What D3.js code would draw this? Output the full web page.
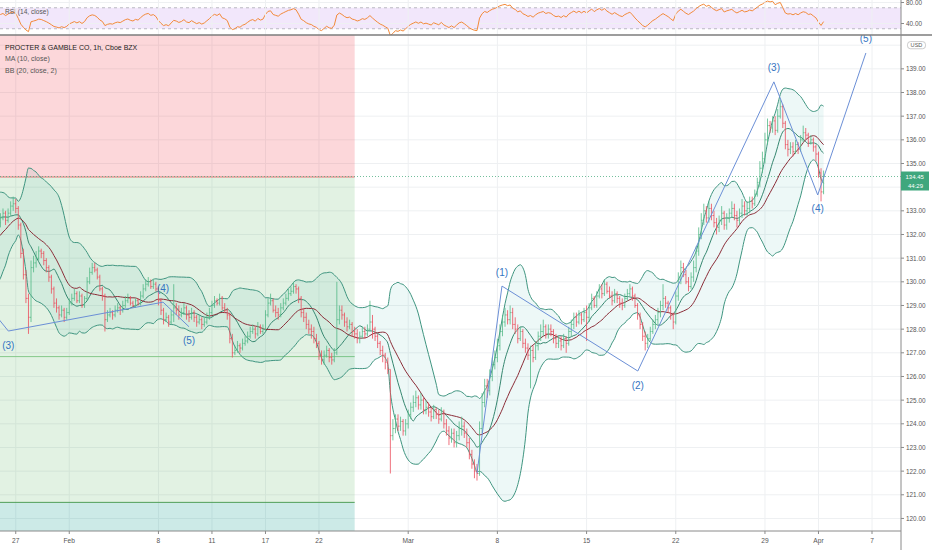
<!DOCTYPE html>
<html>
<head>
<meta charset="utf-8">
<title>PG 1h</title>
<script src="https://cdn.jsdelivr.net/npm/d3@7"></script>
<style>
  html, body { margin: 0; padding: 0; background: #fff; }
  svg { display: block; }
  text { font-family: "Liberation Sans", Arial, sans-serif; }
</style>
</head>
<body>
<svg id="chart" width="932" height="550"></svg>
<script>
// hourly bars, 7 per session. The first 3 sessions (21, 22, 25 Jan) are only
// there so the indicators have history when the visible window starts (26 Jan)
const barsPerDay = 7
const warmupBars = 21

const closes = [
  131.5, 131.0, 130.6, 130.2, 130.5, 130.3, 130.8, // Jan 21
  131.2, 131.6, 131.4, 131.9, 132.3, 132.1, 132.6, // Jan 22
  132.6, 133.0, 132.7, 133.1, 132.8, 132.4, 132.7, // Jan 25
  132.5, 132.7, 132.9, 132.6, 132.9, 133.2, 133.3, // Jan 26
  133.1, 132.4, 131.2, 130.3, 129.3, 128.5, 130.6, // Jan 27
  130.8, 131.0, 131.3, 131.2, 130.9, 130.6, 130.2, // Jan 28
  129.7, 129.1, 128.9, 128.6, 128.8, 128.5, 128.7, // Jan 29
  129.1, 129.3, 129.5, 129.2, 129.4, 129.0, 129.3, // Feb 1
  130.0, 130.4, 130.6, 130.5, 130.2, 129.7, 129.4, // Feb 2
  128.4, 128.6, 128.7, 128.6, 128.8, 128.9, 128.8, // Feb 3
  129.0, 129.2, 129.3, 129.1, 129.0, 129.2, 129.1, // Feb 4
  129.4, 129.7, 129.9, 130.0, 129.8, 129.9, 129.7, // Feb 5
  129.2, 128.8, 128.4, 128.5, 128.3, 128.6, 128.9, // Feb 8
  128.8, 128.6, 128.7, 128.9, 128.6, 128.5, 128.7, // Feb 9
  128.5, 128.3, 128.4, 128.2, 128.3, 128.5, 128.7, // Feb 10
  129.0, 129.2, 129.1, 129.3, 128.9, 128.8, 128.6, // Feb 11
  127.6, 127.0, 127.1, 127.3, 127.2, 127.4, 127.5, // Feb 12
  127.7, 127.9, 128.0, 127.8, 128.1, 127.9, 128.0, // Feb 16
  128.6, 129.1, 129.2, 128.8, 128.7, 128.6, 128.9, // Feb 17
  129.1, 129.3, 129.5, 129.6, 129.8, 129.7, 129.3, // Feb 18
  128.7, 128.5, 128.2, 128.0, 127.9, 127.6, 127.4, // Feb 19
  126.9, 126.7, 126.9, 127.1, 126.8, 126.7, 127.0, // Feb 22
  128.4, 128.8, 128.6, 128.3, 128.1, 128.2, 127.9, // Feb 23
  127.8, 127.6, 127.7, 127.9, 127.8, 128.0, 128.3, // Feb 24
  128.0, 127.7, 127.4, 127.1, 126.9, 126.6, 126.3, // Feb 25
  123.5, 123.8, 124.2, 123.9, 124.1, 123.7, 124.0, // Feb 26
  124.4, 124.7, 124.9, 125.1, 124.8, 125.0, 124.6, // Mar 1
  124.7, 124.5, 124.3, 124.6, 124.4, 124.2, 124.5, // Mar 2
  124.0, 123.7, 123.4, 123.6, 123.2, 123.5, 123.8, // Mar 3
  123.9, 123.6, 123.2, 122.7, 122.3, 122.0, 121.9, // Mar 4
  123.8, 124.9, 125.6, 125.4, 126.0, 126.5, 126.8, // Mar 5
  127.3, 127.9, 128.3, 128.6, 128.4, 128.7, 128.2, // Mar 8
  128.0, 127.6, 127.9, 127.4, 127.2, 126.9, 127.1, // Mar 9
  126.8, 127.3, 127.7, 127.9, 128.1, 127.8, 128.0, // Mar 10
  127.9, 127.6, 127.4, 127.5, 127.3, 127.6, 127.4, // Mar 11
  127.9, 128.2, 128.5, 128.3, 128.6, 128.4, 128.7, // Mar 12
  128.5, 128.9, 129.3, 129.0, 129.4, 129.7, 129.5, // Mar 15
  129.9, 129.6, 129.4, 129.2, 129.5, 129.3, 129.1, // Mar 16
  129.0, 129.3, 129.5, 129.7, 129.4, 129.0, 128.6, // Mar 17
  128.2, 127.7, 127.4, 127.6, 127.9, 128.2, 128.4, // Mar 18
  128.7, 129.0, 129.3, 129.1, 128.9, 128.6, 128.3, // Mar 19
  129.4, 130.1, 130.6, 130.3, 130.0, 129.8, 130.2, // Mar 22
  130.6, 131.3, 132.0, 132.6, 133.0, 132.7, 133.1, // Mar 23
  132.8, 132.5, 132.3, 132.6, 132.9, 132.4, 132.7, // Mar 24
  132.9, 133.1, 132.8, 132.6, 132.9, 133.2, 133.0, // Mar 25
  133.1, 133.4, 133.3, 133.7, 134.2, 134.8, 135.2, // Mar 26
  136.0, 136.6, 136.5, 136.8, 136.4, 137.0, 137.4, // Mar 29
  136.7, 135.8, 135.6, 135.7, 135.5, 135.8, 135.6, // Mar 30
  136.0, 136.3, 136.2, 135.9, 136.0, 135.7, 135.4, // Mar 31
  134.6, 133.8, 134.45                             // Apr 1
]

const highs = [
  131.8, 131.7, 131.2, 130.8, 130.7, 130.7, 131.0,
  131.4, 131.8, 131.7, 132.1, 132.5, 132.4, 132.8,
  132.9, 133.2, 133.1, 133.3, 133.2, 132.9, 132.9,
  132.9, 132.9, 133.1, 133.0, 133.1, 133.4, 133.6,
  133.5, 133.2, 132.5, 131.4, 130.5, 129.5, 130.9,
  131.1, 131.3, 131.5, 131.4, 131.3, 131.0, 130.7,
  130.3, 129.8, 129.3, 129.0, 129.0, 128.9, 128.9,
  129.3, 129.5, 129.7, 129.6, 129.6, 129.5, 129.4,
  130.2, 130.6, 130.8, 130.8, 130.6, 130.3, 129.8,
  129.5, 128.8, 128.9, 128.8, 129.0, 129.1, 129.0,
  129.2, 129.4, 129.5, 129.4, 129.2, 129.3, 129.3,
  129.6, 129.9, 130.1, 130.2, 130.1, 130.1, 130.0,
  129.8, 129.3, 128.9, 128.7, 128.6, 128.8, 129.9,
  129.1, 129.0, 128.9, 129.1, 129.0, 128.8, 128.9,
  128.8, 128.6, 128.6, 128.5, 128.5, 128.7, 128.9,
  129.2, 129.4, 129.3, 129.5, 129.4, 129.1, 128.9,
  128.7, 127.8, 127.3, 127.5, 127.4, 127.6, 127.7,
  127.9, 128.1, 128.2, 128.1, 128.3, 128.2, 128.2,
  128.8, 129.3, 129.5, 129.3, 129.0, 128.9, 129.1,
  129.3, 129.5, 129.7, 129.8, 130.0, 129.9, 129.8,
  129.4, 128.9, 128.7, 128.4, 128.2, 128.1, 127.8,
  127.5, 127.1, 127.1, 127.3, 127.2, 127.0, 127.2,
  130.0, 129.0, 129.0, 128.7, 128.5, 128.4, 128.3,
  128.1, 128.0, 127.9, 128.1, 128.1, 128.2, 129.2,
  128.6, 128.1, 127.8, 127.5, 127.3, 127.0, 126.8,
  126.3, 124.2, 124.4, 124.4, 124.3, 124.2, 124.2,
  124.6, 124.9, 125.2, 125.4, 125.2, 125.3, 125.1,
  125.0, 124.9, 124.7, 124.8, 124.7, 124.6, 124.7,
  124.6, 124.2, 123.9, 123.8, 123.8, 123.7, 124.1,
  124.3, 124.1, 123.8, 123.4, 122.9, 122.5, 122.3,
  124.1, 125.3, 125.9, 125.9, 126.3, 126.8, 127.1,
  127.6, 128.2, 128.6, 128.9, 128.8, 129.0, 128.9,
  128.5, 128.2, 128.1, 128.0, 127.6, 127.4, 127.3,
  127.3, 127.5, 127.9, 128.2, 128.4, 128.2, 128.2,
  128.2, 128.0, 127.8, 127.7, 127.7, 127.8, 127.7,
  128.1, 128.4, 128.7, 128.7, 128.8, 128.7, 128.9,
  129.0, 129.1, 129.5, 129.4, 129.6, 129.9, 129.9,
  130.1, 130.0, 129.8, 129.6, 129.7, 129.6, 129.4,
  129.3, 129.5, 129.7, 129.9, 129.8, 129.5, 129.1,
  128.7, 128.3, 127.9, 127.8, 128.1, 128.4, 128.6,
  128.9, 129.2, 129.9, 129.4, 129.2, 129.0, 128.7,
  129.6, 130.4, 130.9, 130.8, 130.5, 130.2, 130.4,
  130.9, 131.5, 132.3, 132.9, 133.3, 133.2, 133.4,
  133.3, 133.0, 132.7, 132.8, 133.2, 133.0, 132.9,
  133.1, 133.4, 133.3, 133.0, 133.1, 133.5, 133.4,
  133.4, 133.6, 133.6, 133.9, 134.4, 135.1, 135.5,
  136.3, 136.9, 136.8, 137.0, 137.0, 137.3, 137.7,
  137.5, 136.8, 136.0, 135.9, 135.9, 136.0, 135.9,
  136.2, 136.6, 136.5, 136.3, 136.2, 136.1, 135.8,
  135.5, 134.8, 134.7
]

const lows = [
  131.2, 130.9, 130.4, 130.0, 130.1, 130.1, 130.2,
  130.7, 131.1, 131.2, 131.3, 131.8, 131.9, 132.0,
  132.3, 132.5, 132.5, 132.6, 132.7, 132.2, 132.3,
  132.3, 132.3, 132.6, 132.4, 132.5, 132.8, 133.0,
  132.9, 132.2, 131.0, 130.1, 129.1, 127.8, 128.3,
  130.4, 130.6, 130.9, 131.0, 130.7, 130.4, 130.0,
  129.5, 128.9, 128.7, 128.4, 128.5, 128.3, 128.4,
  128.6, 129.0, 129.2, 129.1, 129.1, 128.9, 128.9,
  129.2, 129.9, 130.3, 130.4, 130.1, 129.6, 129.2,
  127.9, 128.3, 128.5, 128.4, 128.5, 128.7, 128.6,
  128.7, 128.9, 129.1, 129.0, 128.9, 128.9, 129.0,
  129.0, 129.3, 129.6, 129.8, 129.7, 129.7, 129.6,
  129.0, 128.6, 128.2, 128.3, 128.1, 128.2, 128.3,
  128.6, 128.4, 128.5, 128.6, 128.4, 128.3, 128.4,
  128.3, 128.1, 128.2, 128.0, 128.1, 128.2, 128.4,
  128.6, 128.9, 129.0, 129.0, 128.8, 128.7, 128.4,
  127.4, 126.8, 126.9, 127.0, 127.0, 127.1, 127.3,
  127.4, 127.6, 127.8, 127.6, 127.7, 127.8, 127.8,
  127.9, 128.5, 129.0, 128.7, 128.5, 128.4, 128.5,
  128.8, 129.0, 129.2, 129.4, 129.5, 129.5, 129.1,
  128.5, 128.3, 128.0, 127.8, 127.6, 127.4, 127.2,
  126.7, 126.5, 126.5, 126.8, 126.6, 126.5, 126.6,
  126.9, 128.2, 128.4, 128.1, 127.9, 128.0, 127.7,
  127.6, 127.4, 127.4, 127.6, 127.6, 127.7, 127.9,
  127.6, 127.5, 127.2, 126.9, 126.6, 126.3, 126.1,
  121.9, 123.3, 123.6, 123.7, 123.7, 123.5, 123.5,
  123.8, 124.2, 124.5, 124.7, 124.6, 124.6, 124.4,
  124.4, 124.3, 124.1, 124.2, 124.2, 124.0, 124.1,
  123.8, 123.5, 123.1, 123.2, 123.0, 123.0, 123.3,
  123.5, 123.4, 123.0, 122.5, 122.1, 121.7, 121.6,
  121.8, 123.6, 124.7, 125.1, 125.2, 125.8, 126.3,
  126.6, 127.1, 127.7, 128.1, 128.2, 128.2, 128.0,
  127.8, 127.4, 127.5, 127.2, 127.0, 126.7, 125.5,
  126.6, 126.7, 127.1, 127.5, 127.7, 127.6, 127.6,
  127.7, 127.4, 127.2, 127.2, 127.1, 127.2, 127.0,
  127.3, 127.7, 128.0, 128.1, 128.2, 128.2, 128.3,
  127.5, 128.3, 128.8, 128.9, 128.9, 129.3, 129.3,
  129.4, 129.5, 129.3, 129.0, 129.1, 129.1, 128.9,
  128.8, 128.9, 129.2, 129.4, 129.2, 128.9, 128.4,
  128.0, 127.5, 127.1, 127.2, 127.5, 127.8, 128.0,
  128.2, 128.5, 128.8, 128.9, 128.7, 128.4, 128.0,
  128.2, 129.2, 129.9, 130.2, 129.9, 129.6, 129.7,
  130.0, 130.4, 131.1, 131.8, 132.4, 132.5, 132.5,
  132.6, 132.3, 132.0, 132.1, 132.4, 132.2, 132.2,
  132.5, 132.7, 132.6, 132.3, 132.4, 132.7, 132.8,
  132.8, 132.9, 133.1, 133.2, 133.6, 134.0, 134.6,
  135.0, 135.8, 136.3, 136.3, 136.2, 136.3, 136.9,
  136.5, 135.6, 135.3, 135.4, 135.3, 135.4, 135.4,
  135.5, 135.9, 136.0, 135.7, 135.8, 135.5, 135.1,
  134.4, 133.4, 133.7
]

// x axis: session number (0 = 26 Jan) of the labelled sessions
const dayTicks = [1, 4, 9, 12, 15, 18, 23, 28, 33, 38, 43, 46, 49]
const dayLabels = ["27", "Feb", "8", "11", "17", "22", "Mar", "8", "15", "22", "29", "Apr", "7"]

const priceTicks = d3.range(120, 140)
const rsiTicks = [80, 40]
const rsiBand = [70, 30]

// short position tool: stop (above chart), entry, inner level, target, box bottom
const positionLevels = [141.5, 134.43, 126.84, 120.68, 119.0]
const positionBars = [-21, 140]

// elliott wave points: [bars since 26 Jan open, price]
const waveLeft = [[-4, 129.0], [4.1, 127.92], [64.8, 129.14], [75, 128.1]]
const waveLeftLabels = ["", "(3)", "(4)", "(5)"]
const waveRight = [[188, 121.91], [197.8, 129.82], [251.1, 126.23], [304.5, 138.45], [321.7, 133.67], [340.6, 139.67]]
const waveRightLabels = ["", "(1)", "(2)", "(3)", "(4)", "(5)"]

const legendLines = ["PROCTER & GAMBLE CO, 1h, Cboe BZX", "MA (10, close)", "BB (20, close, 2)"]
const countdown = "44:29"

// ---- layout
const axisX = 901, rsiBottom = 35, plotBottom = 531
const upColor = "#53b987", downColor = "#eb4d5c"
const gridColor = "#eef0f2", axisText = "#555"

const svg = d3.select("#chart")
const defs = svg.append("defs")
defs.append("clipPath").attr("id", "clip-main").append("rect")
  .attr("x", 0).attr("y", rsiBottom).attr("width", axisX).attr("height", plotBottom - rsiBottom)
defs.append("clipPath").attr("id", "clip-rsi").append("rect")
  .attr("x", 0).attr("y", 0).attr("width", axisX).attr("height", rsiBottom)

const xDay = d3.scaleLinear().domain([0, 49]).range([-2.1, 872])
const barX = i => xDay((i - warmupBars) / barsPerDay)
const waveX = b => xDay(b / barsPerDay)
const y = d3.scaleLinear().domain([119.47, 140.43]).range([plotBottom, rsiBottom])
const yR = d3.scaleLinear().domain([40, 80]).range([23.5, 2.5])

// ---- indicators
function sma (v, n) {
  return v.map((_, i) => i < n - 1 ? null : d3.mean(v.slice(i - n + 1, i + 1)))
}
function stdev (v, n) {
  return v.map((_, i) => {
    if (i < n - 1) return null
    let w = v.slice(i - n + 1, i + 1), m = d3.mean(w)
    return Math.sqrt(d3.mean(w, d => (d - m) * (d - m)))
  })
}
function rsi (v, n) {
  let out = v.map(() => null), ag = 0, al = 0
  for (let i = 1; i < v.length; i++) {
    let ch = v[i] - v[i - 1], g = Math.max(ch, 0), l = Math.max(-ch, 0)
    if (i <= n) {
      ag += g / n; al += l / n
      if (i === n) out[i] = 100 - 100 / (1 + ag / al)
    } else {
      ag = (ag * (n - 1) + g) / n
      al = (al * (n - 1) + l) / n
      out[i] = al === 0 ? 100 : 100 - 100 / (1 + ag / al)
    }
  }
  return out
}

const basis = sma(closes, 20)
const dev = stdev(closes, 20)
const upper = basis.map((b, i) => b == null ? null : b + 2 * dev[i])
const lower = basis.map((b, i) => b == null ? null : b - 2 * dev[i])
const ma10 = sma(closes, 10)
const rsi14 = rsi(closes, 14)

const bars = closes.map((c, i) => ({ i, o: i ? closes[i - 1] : c, h: highs[i], l: lows[i], c }))
const last = closes[closes.length - 1]

// ---- background panels and grid
svg.append("rect").attr("width", 932).attr("height", 550).attr("fill", "#fff")

const rsiG = svg.append("g").attr("clip-path", "url(#clip-rsi)")
rsiG.append("rect")
  .attr("x", 0).attr("width", axisX)
  .attr("y", yR(rsiBand[0])).attr("height", yR(rsiBand[1]) - yR(rsiBand[0]))
  .attr("fill", "#f2e7fb")
rsiG.selectAll(".rgrid").data(rsiTicks).enter().append("line")
  .attr("x1", 0).attr("x2", axisX).attr("y1", d => yR(d)).attr("y2", d => yR(d))
  .attr("stroke", gridColor)

svg.append("g").selectAll("line").data(dayTicks).enter().append("line")
  .attr("x1", d => xDay(d)).attr("x2", d => xDay(d))
  .attr("y1", 0).attr("y2", plotBottom)
  .attr("stroke", gridColor)

const main = svg.append("g").attr("clip-path", "url(#clip-main)")
main.selectAll(".hgrid").data(priceTicks.concat([140])).enter().append("line")
  .attr("x1", 0).attr("x2", axisX).attr("y1", d => y(d)).attr("y2", d => y(d))
  .attr("stroke", gridColor)

// ---- position tool
const px0 = waveX(positionBars[0]), px1 = waveX(positionBars[1])
const zoneFills = ["rgba(242,54,69,0.2)", "rgba(76,175,80,0.16)", "rgba(76,175,80,0.16)", "rgba(0,150,136,0.2)"]
d3.pairs(positionLevels).forEach(([a, b], k) => {
  main.append("rect")
    .attr("x", px0).attr("width", px1 - px0)
    .attr("y", y(a)).attr("height", y(b) - y(a))
    .attr("fill", zoneFills[k])
})
const zoneLines = ["#e57373", "#86c98a", "#4f9e58"]
positionLevels.slice(1, 4).forEach((p, k) => {
  main.append("line")
    .attr("x1", px0).attr("x2", px1).attr("y1", y(p)).attr("y2", y(p))
    .attr("stroke", zoneLines[k]).attr("stroke-width", 1)
})

// ---- bollinger bands and moving average
const idx = d3.range(warmupBars - 1, closes.length)
main.append("path")
  .datum(idx)
  .attr("fill", "rgba(0,150,136,0.07)")
  .attr("d", d3.area().x(i => barX(i)).y0(i => y(lower[i])).y1(i => y(upper[i])).curve(d3.curveMonotoneX))

const lineOf = arr => d3.line().defined(i => arr[i] != null).x(i => barX(i)).y(i => y(arr[i])).curve(d3.curveMonotoneX)
main.append("path").datum(idx).attr("d", lineOf(upper)).attr("fill", "none").attr("stroke", "#3f9580").attr("stroke-width", 1)
main.append("path").datum(idx).attr("d", lineOf(lower)).attr("fill", "none").attr("stroke", "#3f9580").attr("stroke-width", 1)
main.append("path").datum(idx).attr("d", lineOf(ma10)).attr("fill", "none").attr("stroke", "#368770").attr("stroke-width", 1)
main.append("path").datum(idx).attr("d", lineOf(basis)).attr("fill", "none").attr("stroke", "#8b2d38").attr("stroke-width", 1)

// ---- OHLC bars
main.append("g").selectAll("path").data(bars).enter().append("path")
  .attr("d", d => {
    let bx = barX(d.i)
    return `M${bx},${y(d.h)}V${y(d.l)}M${bx - 1.1},${y(d.o)}H${bx}M${bx},${y(d.c)}H${bx + 1.1}`
  })
  .attr("fill", "none")
  .attr("stroke", d => d.c >= d.o ? upColor : downColor)
  .attr("stroke-width", 0.8)

// last price line
main.append("line")
  .attr("x1", 0).attr("x2", axisX).attr("y1", y(last)).attr("y2", y(last))
  .attr("stroke", "#4fae83").attr("stroke-width", 0.8).attr("stroke-dasharray", "1,2")

// ---- elliott waves
function drawWave (pts, labels) {
  main.append("path")
    .datum(pts)
    .attr("d", d3.line().x(d => waveX(d[0])).y(d => y(d[1])))
    .attr("fill", "none").attr("stroke", "#6b8fd6").attr("stroke-width", 1)
  pts.forEach((p, k) => {
    if (!labels[k]) return
    let nb = [pts[k - 1], pts[k + 1]].filter(Boolean)
    let isHigh = nb.every(q => q[1] < p[1])
    main.append("text")
      .attr("x", waveX(p[0])).attr("y", y(p[1]) + (isHigh ? -14 : 14))
      .attr("text-anchor", "middle").attr("dominant-baseline", "central")
      .attr("font-size", 10).attr("fill", "#3474c2")
      .text(labels[k])
  })
}
drawWave(waveLeft, waveLeftLabels)
drawWave(waveRight, waveRightLabels)

// ---- RSI
const rsiLines = rsiG.append("g")
rsiBand.forEach(v => {
  rsiLines.append("line")
    .attr("x1", 0).attr("x2", axisX).attr("y1", yR(v)).attr("y2", yR(v))
    .attr("stroke", "#a9a9b3").attr("stroke-dasharray", "3,3").attr("stroke-width", 0.8)
})
rsiG.append("path")
  .datum(d3.range(warmupBars - 1, closes.length))
  .attr("d", d3.line().defined(i => rsi14[i] != null).x(i => barX(i)).y(i => yR(rsi14[i])))
  .attr("fill", "none").attr("stroke", "#f38a3a").attr("stroke-width", 1)

rsiG.append("text").attr("x", 5).attr("y", 11).attr("dominant-baseline", "central")
  .attr("font-size", 6.6).attr("fill", "#555").text("RSI (14, close)")

// ---- axes frame
svg.append("line").attr("x1", 0).attr("x2", 932).attr("y1", rsiBottom).attr("y2", rsiBottom)
  .attr("stroke", "#7d7d7d").attr("stroke-width", 1.3)
svg.append("line").attr("x1", 0).attr("x2", axisX).attr("y1", plotBottom).attr("y2", plotBottom)
  .attr("stroke", "#8a8a8a").attr("stroke-width", 1)
svg.append("line").attr("x1", axisX).attr("x2", axisX).attr("y1", 0).attr("y2", 550)
  .attr("stroke", "#8a8a8a").attr("stroke-width", 1)

const fmt = d3.format(".2f")
const ly = y(last)
// the last-price badge covers the axis label it sits on
const shownTicks = priceTicks.filter(p => Math.abs(y(p) - (ly + 4.5)) > 12)
const rightAxis = svg.append("g")
rightAxis.selectAll(".pt").data(priceTicks).enter().append("line")
  .attr("x1", axisX).attr("x2", axisX + 3).attr("y1", d => y(d)).attr("y2", d => y(d))
  .attr("stroke", "#8a8a8a")
rightAxis.selectAll(".pl").data(shownTicks).enter().append("text")
  .attr("x", axisX + 5).attr("y", d => y(d)).attr("dominant-baseline", "central")
  .attr("font-size", 6.4).attr("fill", axisText).text(d => fmt(d))
rightAxis.selectAll(".rt").data(rsiTicks).enter().append("line")
  .attr("x1", axisX).attr("x2", axisX + 3).attr("y1", d => yR(d)).attr("y2", d => yR(d))
  .attr("stroke", "#8a8a8a")
rightAxis.selectAll(".rl").data(rsiTicks).enter().append("text")
  .attr("x", axisX + 5).attr("y", d => yR(d)).attr("dominant-baseline", "central")
  .attr("font-size", 6.4).attr("fill", axisText).text(d => fmt(d))

// currency badge at the 140 level
rightAxis.append("rect").attr("x", axisX + 6.5).attr("y", y(140) - 3.6).attr("width", 18).attr("height", 7.2)
  .attr("rx", 3).attr("fill", "#fff").attr("stroke", "#b5b5b5").attr("stroke-width", 0.7)
rightAxis.append("text").attr("x", axisX + 15.5).attr("y", y(140)).attr("text-anchor", "middle")
  .attr("dominant-baseline", "central").attr("font-size", 5.6).attr("fill", axisText).text("USD")

// last price badge
rightAxis.append("rect").attr("x", axisX).attr("y", ly - 5).attr("width", 28).attr("height", 19)
  .attr("fill", "#3fa77d")
rightAxis.append("text").attr("x", axisX + 4.5).attr("y", ly).attr("dominant-baseline", "central")
  .attr("font-size", 6).attr("fill", "#fff").text(fmt(last))
rightAxis.append("text").attr("x", axisX + 7).attr("y", ly + 9).attr("dominant-baseline", "central")
  .attr("font-size", 6).attr("fill", "#fff").text(countdown)

// bottom axis
const bottomAxis = svg.append("g")
bottomAxis.selectAll("line").data(dayTicks).enter().append("line")
  .attr("x1", d => xDay(d)).attr("x2", d => xDay(d)).attr("y1", plotBottom).attr("y2", plotBottom + 3)
  .attr("stroke", "#8a8a8a")
bottomAxis.selectAll("text").data(dayTicks).enter().append("text")
  .attr("x", d => xDay(d)).attr("y", 540.5).attr("text-anchor", "middle").attr("dominant-baseline", "central")
  .attr("font-size", 6.6).attr("fill", axisText)
  .text((d, k) => dayLabels[k])

// legend
svg.append("g").selectAll("text").data(legendLines).enter().append("text")
  .attr("x", 5).attr("y", (d, k) => 47 + k * 11.6).attr("dominant-baseline", "central")
  .attr("font-size", 7).attr("fill", (d, k) => k ? "#555" : "#222")
  .text(d => d)
</script>
</body>
</html>
